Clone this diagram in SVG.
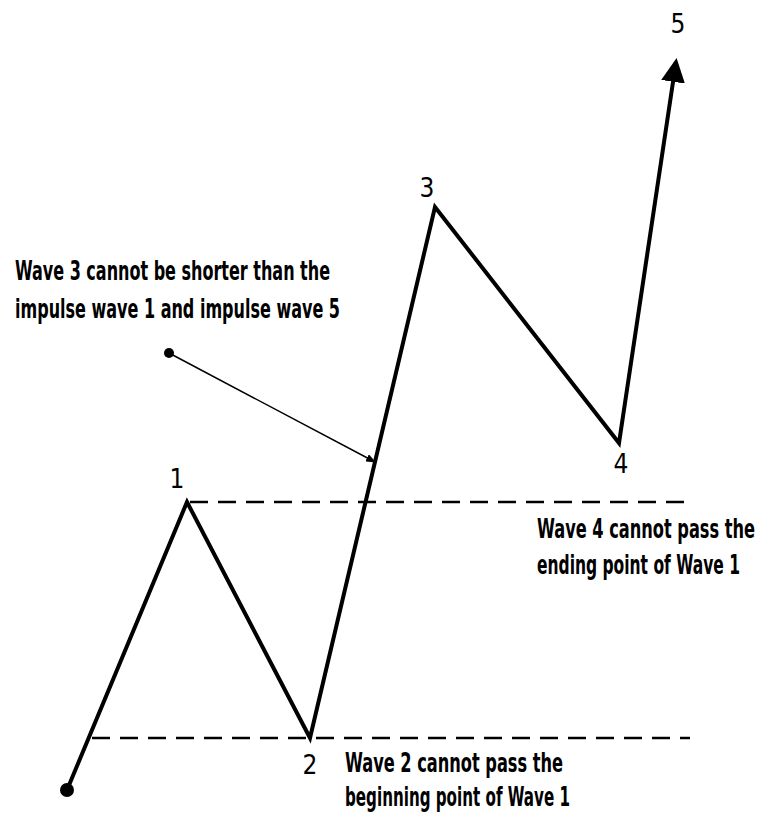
<svg xmlns="http://www.w3.org/2000/svg" width="763" height="817" viewBox="0 0 763 817">
<style>
  .lbl { font-family: "DejaVu Sans Condensed", "Liberation Sans Narrow", "DejaVu Sans", sans-serif; font-size: 27px; font-weight: bold; fill: #000; }
  .num { font-family: "DejaVu Sans Condensed", "DejaVu Sans", sans-serif; font-size: 26px; fill: #000; }
  .wave { fill: none; stroke: #000; stroke-width: 4; stroke-linejoin: miter; }
  .dash { fill: none; stroke: #000; stroke-width: 2.5; stroke-dasharray: 18 10; }
  .pointer { fill: none; stroke: #000; stroke-width: 1.5; }
</style>
<defs>
  <marker id="bigArrow" markerWidth="6" markerHeight="6" refX="5" refY="3" orient="auto" markerUnits="strokeWidth">
    <path d="M0,0 L6,3 L0,6 Z" fill="#000"/>
  </marker>
  <marker id="smallArrow" markerWidth="10" markerHeight="8" refX="9" refY="4" orient="auto" markerUnits="userSpaceOnUse">
    <path d="M0,0 L10,4 L0,8 Z" fill="#000"/>
  </marker>
</defs>
<rect width="763" height="817" fill="#fff"/>
<g id="connectors">
  <line class="dash" x1="190" y1="502" x2="690" y2="502"/>
  <line class="dash" x1="92" y1="738" x2="690" y2="738"/>
  <polyline class="wave" points="67,790 187,502 310,738 435,207 619,443 676,62" marker-end="url(#bigArrow)"/>
  <line class="pointer" x1="169" y1="353" x2="375" y2="462" marker-end="url(#smallArrow)"/>
</g>
<g id="start"><circle cx="67" cy="790" r="7" fill="#000"/></g>
<g id="pointer-dot"><circle cx="169" cy="353" r="5" fill="#000"/></g>
<g id="p1"><text class="num" x="177" y="488" text-anchor="middle">1</text></g>
<g id="p2"><text class="num" x="310" y="774" text-anchor="middle">2</text></g>
<g id="p3"><text class="num" x="427" y="197" text-anchor="middle">3</text></g>
<g id="p4"><text class="num" x="621" y="473" text-anchor="middle">4</text></g>
<g id="p5"><text class="num" x="678" y="33" text-anchor="middle">5</text></g>
<g id="note3">
  <text class="lbl" x="15" y="280" textLength="315" lengthAdjust="spacingAndGlyphs">Wave 3 cannot be shorter than the</text>
  <text class="lbl" x="15" y="318" textLength="325" lengthAdjust="spacingAndGlyphs">impulse wave 1 and impulse wave 5</text>
</g>
<g id="note4">
  <text class="lbl" x="537" y="538" textLength="218" lengthAdjust="spacingAndGlyphs">Wave 4 cannot pass the</text>
  <text class="lbl" x="537" y="574" textLength="203" lengthAdjust="spacingAndGlyphs">ending point of Wave 1</text>
</g>
<g id="note2">
  <text class="lbl" x="345" y="772" textLength="218" lengthAdjust="spacingAndGlyphs">Wave 2 cannot pass the</text>
  <text class="lbl" x="345" y="806" textLength="225" lengthAdjust="spacingAndGlyphs">beginning point of Wave 1</text>
</g>
</svg>
